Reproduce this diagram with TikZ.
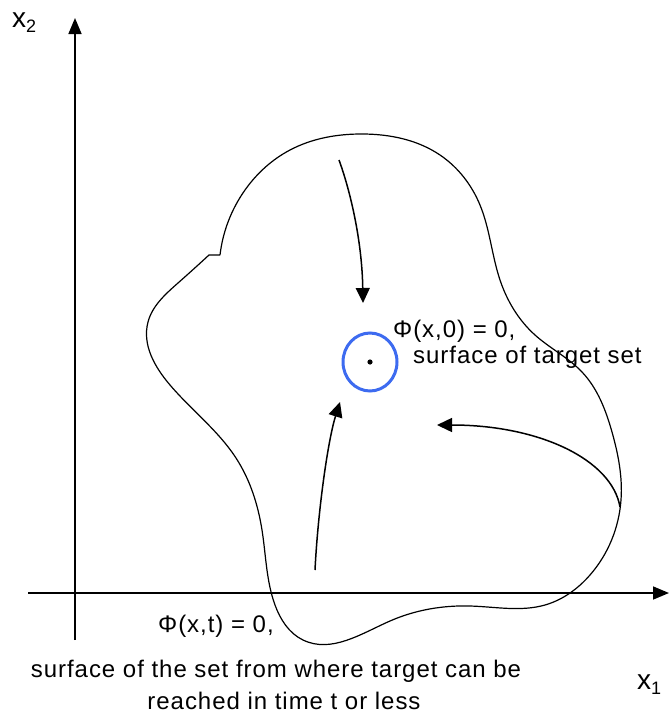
\documentclass[tikz,border=0pt]{standalone}
\usepackage{fontspec}
\usepackage{tikz}
\usetikzlibrary{arrows.meta,positioning,hobby}
\newfontfamily\lblfont{Liberation Sans}[LetterSpace=4]
\newfontfamily\axfont{Liberation Sans}
\definecolor{targetBlue}{HTML}{3D6BF0}
\newcommand{\axlbl}[2]{{\axfont\fontsize{28}{30}\selectfont #1\raisebox{-5pt}{\fontsize{18}{20}\selectfont #2}}}
\tikzset{
  axisline/.style={line width=1.6pt, -{Triangle[length=16pt,width=13pt]}},
  traj/.style={line width=1.5pt, -{Triangle[length=15pt,width=14pt]}},
  boundary/.style={line width=1.2pt},
  lbl/.style={font=\lblfont\fontsize{24}{26}\selectfont, inner sep=0pt},
}

\begin{document}
\begin{tikzpicture}[x=1pt, y=-1pt]
\useasboundingbox (0,0) rectangle (669,715);

\coordinate (x2start) at (75,640);
\coordinate (x2end) at (75,18);
\coordinate (x1start) at (28,593);
\coordinate (x1end) at (669,593);
\draw[axisline] (x2start) -- (x2end);
\draw[axisline] (x1start) -- (x1end);
\node[anchor=base west, inner sep=0pt] (x2lbl) at (12,27) {\axlbl{x}{2}};
\node[anchor=base west, inner sep=0pt] (x1lbl) at (637,689) {\axlbl{x}{1}};

\draw[boundary] (220,255) -- (209,255)
  to[curve through={(178,283) (148,322) (170,385) (236,458) (262,530) (275,605) (303,640)
  (390,621) (470,606) (545,605) (590,575) (621,500) (612,432) (582,372) (535,335) (500,280) (480,205)
  (440,155) (363,134) (290,150) (245,190)}] (220,255);

\coordinate (target) at (370,362);
\draw[targetBlue, line width=3pt] (target) ellipse [x radius=27, y radius=29];
\fill (target) circle (2.6);

\coordinate (topstart) at (339,160);
\coordinate (toptip) at (363,303);
\coordinate (lowstart) at (315,570);
\coordinate (lowtip) at (340,402);
\coordinate (rightstart) at (620,507);
\coordinate (righttip) at (437,425);
\draw[traj] (topstart) .. controls (350,190) and (362,240) .. (toptip);
\draw[traj] (lowstart) .. controls (318,510) and (328,440) .. (lowtip);
\draw[traj] (rightstart) .. controls (612,460) and (540,425) .. (righttip);

\node[lbl, anchor=base west] (phizero) at (393,337) {Φ(x,0) = 0,};
\node[lbl, anchor=base west] (targetlbl) at (413,363) {surface of target set};
\node[lbl, anchor=base west] (phit) at (158,632) {Φ(x,t) = 0,};
\node[lbl, anchor=base] (reachone) at (276,677) {surface of the set from where target can be};
\node[lbl, anchor=base] (reachtwo) at (284,709) {reached in time t or less};
\end{tikzpicture}
\end{document}
